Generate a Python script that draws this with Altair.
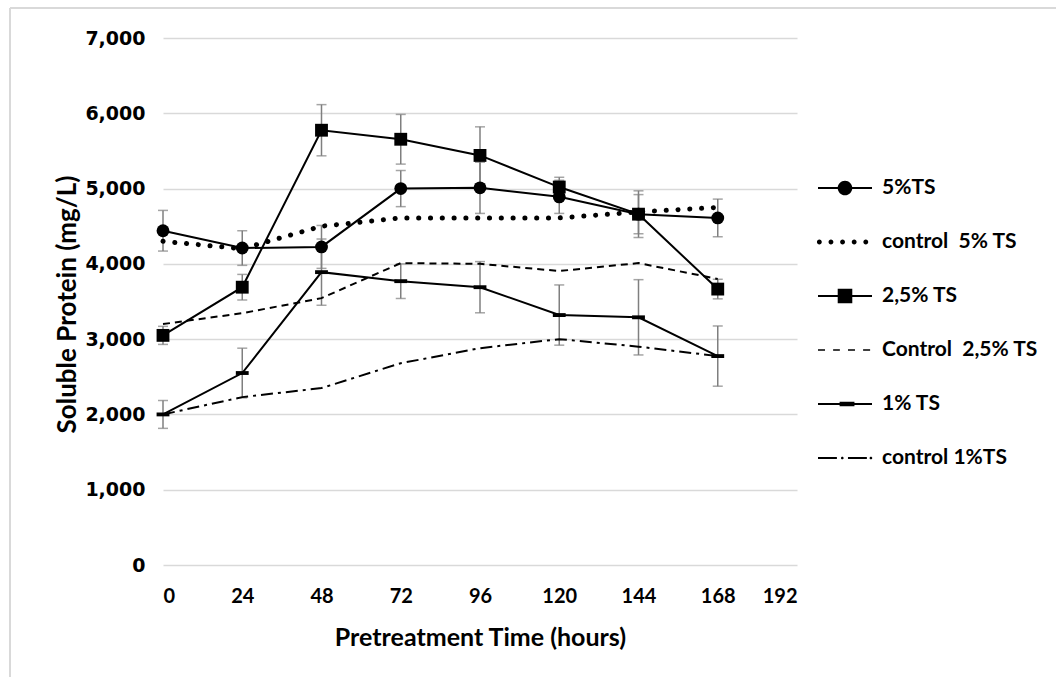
import altair as alt
import pandas as pd

# ---- data ----
hours = [0, 24, 48, 72, 96, 120, 144, 168]

ts5 = [4440, 4210, 4225, 5000, 5010, 4890, 4660, 4610]
ts5_err = [270, 230, 285, 240, 340, 220, 260, 250]
ctrl5 = [4300, 4200, 4500, 4610, 4610, 4610, 4690, 4750]
ts25 = [3050, 3690, 5775, 5655, 5440, 5020, 4660, 3665]
ts25_err = [120, 170, 340, 330, 380, 130, 310, 130]
ctrl25 = [3200, 3345, 3545, 4010, 4000, 3905, 4010, 3800]
ts1 = [2000, 2550, 3890, 3770, 3690, 3320, 3290, 2775]
ts1_err = [185, 330, 440, 230, 340, 400, 500, 400]
ctrl1 = [2000, 2230, 2350, 2680, 2880, 3000, 2900, 2775]

series_names = ["5%TS", "control  5% TS", " 2,5% TS", "Control  2,5% TS", "1% TS", "control 1%TS"]
series_values = [ts5, ctrl5, ts25, ctrl25, ts1, ctrl1]
series_errors = [ts5_err, None, ts25_err, None, ts1_err, None]

rows = []
for name, vals, errs in zip(series_names, series_values, series_errors):
    for i, h in enumerate(hours):
        r = {"series": name, "hour": h, "value": vals[i]}
        if errs is not None:
            r["lo"] = vals[i] - errs[i]
            r["hi"] = vals[i] + errs[i]
        rows.append(r)
df = pd.DataFrame(rows)

FONT_T = "Lato"
BLACK = "#000000"
GRAY = "#7f7f7f"

x_scale = alt.Scale(domain=[0, 192], nice=False, zero=False)
x_axis = alt.Axis(values=[0, 24, 48, 72, 96, 120, 144, 168, 192], grid=False, domain=False,
                  ticks=False, labelFont=FONT_T, labelFontWeight="bold", labelFontSize=20,
                  labelColor=BLACK, labelPadding=21, title="Pretreatment Time (hours)",
                  titleFont=FONT_T, titleFontWeight="bold", titleFontSize=25,
                  titleColor=BLACK, titleY=72, titleBaseline="middle")
y_scale = alt.Scale(domain=[0, 7000], nice=False)
y_axis = alt.Axis(values=[0, 1000, 2000, 3000, 4000, 5000, 6000, 7000], format=",.0f",
                  grid=True, gridColor="#d9d9d9", gridWidth=1.5, domain=False, ticks=False,
                  labelFont="DejaVu Sans", labelFontWeight="bold", labelFontSize=19,
                  labelColor=BLACK, labelPadding=18, title="Soluble Protein (mg/L)",
                  titleFont=FONT_T, titleFontWeight="bold", titleFontSize=26,
                  titleColor=BLACK, titleAngle=270, titleX=-96, titleY=266,
                  titleAlign="center", titleBaseline="middle")


def X(f="hour:Q"):
    return alt.X(f, scale=x_scale, axis=x_axis)


def Y(f):
    return alt.Y(f, scale=y_scale, axis=y_axis)


base = alt.Chart(df)
measured = alt.FieldOneOfPredicate(field="series", oneOf=["5%TS", " 2,5% TS", "1% TS"])

err_rule = base.transform_filter(measured).mark_rule(color=GRAY, strokeWidth=1.5).encode(
    x=X(), y=Y("lo:Q"), y2="hi:Q")
cap_lo = base.transform_filter(measured).mark_tick(orient="horizontal", size=10, thickness=1.5,
                                                   color=GRAY).encode(x=X(), y=Y("lo:Q"))
cap_hi = base.transform_filter(measured).mark_tick(orient="horizontal", size=10, thickness=1.5,
                                                   color=GRAY).encode(x=X(), y=Y("hi:Q"))


def line(name, **kw):
    return base.transform_filter(alt.datum.series == name).mark_line(color=BLACK, **kw).encode(
        x=X(), y=Y("value:Q"))


l_ts5 = line("5%TS", strokeWidth=2)
l_ts25 = line(" 2,5% TS", strokeWidth=2)
l_ts1 = line("1% TS", strokeWidth=2)
l_c5 = line("control  5% TS", strokeWidth=5, strokeDash=[0.1, 11.7], strokeCap="round")
l_c25 = line("Control  2,5% TS", strokeWidth=2, strokeDash=[7, 5])
l_c1 = line("control 1%TS", strokeWidth=2, strokeDash=[12, 5, 3, 5])

bar_path = "M-1,-0.3H1V0.3H-1Z"
markers = base.transform_filter(measured).mark_point(filled=True, opacity=1, color=BLACK, size=165).encode(
    x=X(), y=Y("value:Q"),
    shape=alt.Shape("series:N", scale=alt.Scale(domain=["5%TS", " 2,5% TS", "1% TS"],
                                                range=["circle", "square", bar_path]), legend=None))

# legend symbols drawn as filled svg paths (unit half-width = 27 px)
def hbar(a, b, h=0.04):
    return f"M{a},{-h}H{b}V{h}H{a}Z"


def dot(c, r):
    return f"M{c + r},0A{r},{r} 0 1,1 {c - r},0A{r},{r} 0 1,1 {c + r},0Z"


sym_ts5 = hbar(-1, 1) + dot(0, 0.27)
sym_c5 = "".join(dot(c, 0.09) for c in [-0.95, -0.52, -0.09, 0.34, 0.77])
sym_ts25 = hbar(-1, 1) + "M-0.27,-0.27H0.27V0.27H-0.27Z"
sym_c25 = hbar(-1, -0.74, 0.03) + hbar(-0.44, -0.19, 0.03) + hbar(0.11, 0.37, 0.03) + hbar(0.67, 0.93, 0.03)
sym_ts1 = hbar(-1, 1) + hbar(-0.2, 0.35, 0.08)
sym_c1 = hbar(-1, -0.3) + dot(-0.1, 0.05) + hbar(0.11, 0.81) + dot(0.96, 0.05)

legend_layer = base.transform_filter("false").mark_point(filled=True, color=BLACK, opacity=1).encode(
    x=X(), y=Y("value:Q"),
    shape=alt.Shape("series:N",
                    scale=alt.Scale(domain=series_names,
                                    range=[sym_ts5, sym_c5, sym_ts25, sym_c25, sym_ts1, sym_c1]),
                    legend=alt.Legend(orient="none", legendX=655, legendY=123, title=None,
                                      symbolSize=2916, symbolStrokeWidth=0, symbolFillColor=BLACK,
                                      symbolOpacity=1, gridAlign="all",
                                      labelFont=FONT_T, labelFontWeight="bold", labelFontSize=21,
                                      labelColor=BLACK, rowPadding=17, labelOffset=10, padding=0,
                                      labelExpr="replace(replace(datum.label, '  ', ' \u00a0'), ' 2,5', '\u00a0\u00a02,5')")))

border_top = alt.Chart(df).mark_rule(color="#d9d9d9", strokeWidth=1.5).encode(
    x=alt.value(-153), x2=alt.value(893), y=alt.value(-30))
border_left = alt.Chart(df).mark_rule(color="#d9d9d9", strokeWidth=1.5).encode(
    x=alt.value(-153), y=alt.value(-30), y2=alt.value(639))

chart = alt.layer(
    err_rule, cap_lo, cap_hi,
    l_c5, l_c25, l_c1, l_ts5, l_ts25, l_ts1,
    markers, legend_layer, border_top, border_left,
).resolve_scale(shape="independent").properties(
    width=634, height=527,
    autosize=alt.AutoSizeParams(type="none"),
    padding={"left": 163, "top": 38, "right": 259, "bottom": 112},
    background="white",
).configure_view(stroke=None)

chart.save("out.html", embed_options={"renderer": "svg", "actions": False})
